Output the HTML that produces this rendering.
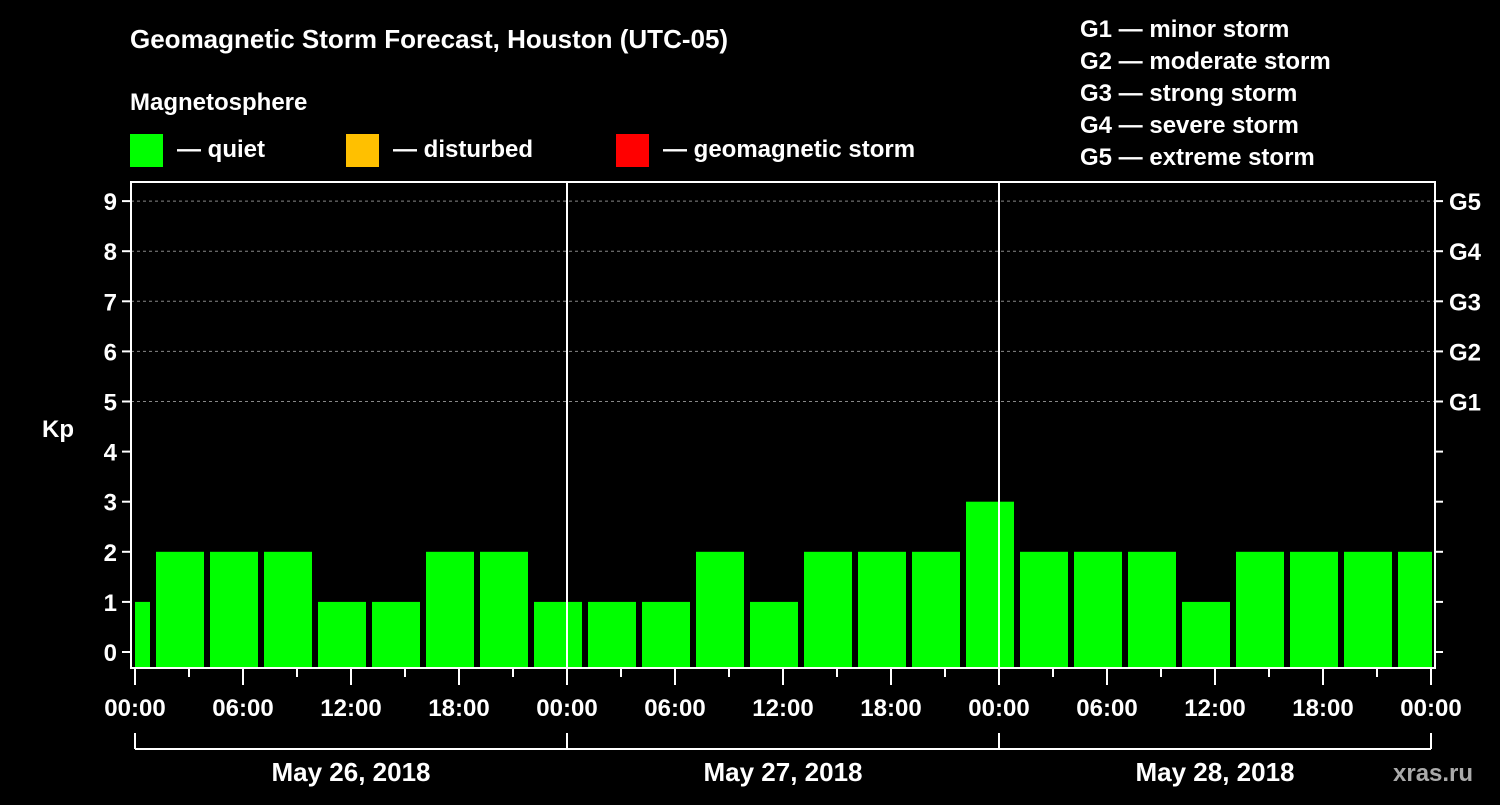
<!DOCTYPE html>
<html><head><meta charset="utf-8"><style>
body{margin:0;background:#000;}
svg text{font-family:"Liberation Sans",sans-serif;font-weight:bold;fill:#fff;}
</style></head><body>
<svg id="chart" width="1500" height="800" xmlns="http://www.w3.org/2000/svg">
<rect width="1500" height="800" fill="#000"/>
<text x="130" y="48" font-size="26">Geomagnetic Storm Forecast, Houston (UTC-05)</text>
<text x="130" y="110" font-size="24">Magnetosphere</text>
<rect x="130" y="134" width="33" height="33" fill="#00ff00"/>
<text x="177" y="157" font-size="24">— quiet</text>
<rect x="346" y="134" width="33" height="33" fill="#ffc000"/>
<text x="393" y="157" font-size="24">— disturbed</text>
<rect x="616" y="134" width="33" height="33" fill="#ff0000"/>
<text x="663" y="157" font-size="24">— geomagnetic storm</text>
<g font-size="24">
<text x="1080" y="37">G1 — minor storm</text>
<text x="1080" y="69">G2 — moderate storm</text>
<text x="1080" y="101">G3 — strong storm</text>
<text x="1080" y="133">G4 — severe storm</text>
<text x="1080" y="165">G5 — extreme storm</text>
</g>
<text x="42" y="437" font-size="24">Kp</text>
<text x="1393" y="781" font-size="24" fill="#aaa" style="fill:#aaa">xras.ru</text>
<g id="plot"></g>
</svg>
<script>
const hours = [-0.5,2.5,5.5,8.5,11.5,14.5,17.5,20.5,23.5,26.5,29.5,32.5,35.5,38.5,41.5,44.5,47.5,50.5,53.5,56.5,59.5,62.5,65.5,68.5,71.5];
const kpValues = [1,2,2,2,1,1,2,2,1,1,1,2,1,2,2,2,3,2,2,2,1,2,2,2,2];
const yTicks = [0,1,2,3,4,5,6,7,8,9];
const gLabels = ["G1","G2","G3","G4","G5"];
const gLevels = [5,6,7,8,9];
const xLabels = ["00:00","06:00","12:00","18:00","00:00","06:00","12:00","18:00","00:00","06:00","12:00","18:00","00:00"];
const dayLabels = ["May 26, 2018","May 27, 2018","May 28, 2018"];

const NS="http://www.w3.org/2000/svg";
const g=document.getElementById('plot');
const L=131,R=1435,T=182,B=668,X0=135,PXH=18;
const x=h=>X0+h*PXH;
const y=v=>652-v*50.1;
function mk(t,a,p){const e=document.createElementNS(NS,t);for(const k in a)e.setAttribute(k,a[k]);(p||g).appendChild(e);return e;}
function txt(s,a){const e=mk('text',a);e.textContent=s;return e;}
// clip
const defs=mk('defs',{});const cp=mk('clipPath',{id:'pc'},defs);mk('rect',{x:L+4,y:T,width:R-L-7,height:B-T},cp);
// grid
gLevels.forEach((v,i)=>{const e=mk('line',{x1:L,x2:R,y1:y(v),y2:y(v),stroke:'#888','stroke-dasharray':'3,3','stroke-width':1});

const t=txt(gLabels[i],{x:1449,y:y(v)+9,'font-size':24});});
// bars
const bg=mk('g',{'clip-path':'url(#pc)'});
hours.forEach((h,i)=>{const e=mk('rect',{x:x(h)-24,y:y(kpValues[i]),width:48,height:B-y(kpValues[i]),fill:'#00ff00'},bg);
});
// frame
const f=mk('rect',{x:L,y:T,width:R-L,height:B-T,fill:'none',stroke:'#fff','stroke-width':2});

[24,48].forEach(h=>{const e=mk('line',{x1:x(h),x2:x(h),y1:T,y2:B,stroke:'#fff','stroke-width':2});
});
// y ticks
yTicks.forEach(v=>{mk('line',{x1:L-9,x2:L,y1:y(v),y2:y(v),stroke:'#fff','stroke-width':2});
mk('line',{x1:R,x2:R+8,y1:y(v),y2:y(v),stroke:'#fff','stroke-width':2});
const t=txt(String(v),{x:L-14,y:y(v)+9,'font-size':24,'text-anchor':'end'});
});
// x ticks
for(let h=0;h<=72;h+=3){const maj=h%6===0;mk('line',{x1:x(h),x2:x(h),y1:B,y2:B+(maj?17:9),stroke:'#fff','stroke-width':2});}
xLabels.forEach((s,i)=>{const t=txt(s,{x:x(i*6),y:716,'font-size':24,'text-anchor':'middle'});
});
// day bracket
mk('line',{x1:x(0),x2:x(72),y1:749,y2:749,stroke:'#fff','stroke-width':2});
[0,24,48,72].forEach(h=>mk('line',{x1:x(h),x2:x(h),y1:733,y2:749,stroke:'#fff','stroke-width':2}));
dayLabels.forEach((s,i)=>{const t=txt(s,{x:x(i*24+12),y:781,'font-size':26,'text-anchor':'middle'});
});
</script>
</body></html>
